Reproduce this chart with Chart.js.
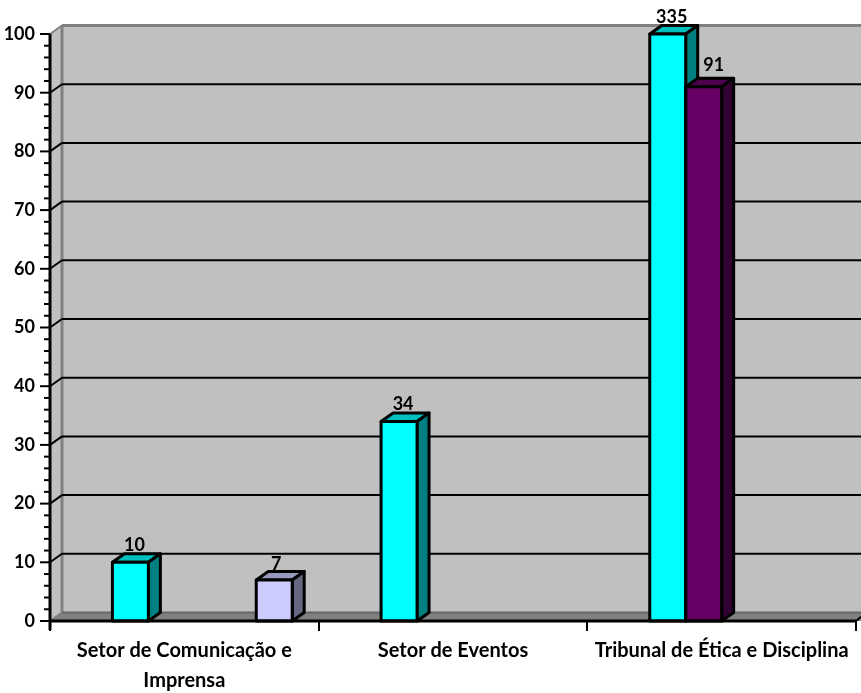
<!DOCTYPE html>
<html><head><meta charset="utf-8">
<style>html,body{margin:0;padding:0;background:#fff}canvas{display:block}</style>
<script src="https://cdn.jsdelivr.net/npm/chart.js@4"></script>
</head><body><canvas id="c" width="861" height="693"></canvas>
<script>
const categories = [["Setor de Comunicação e","Imprensa"],"Setor de Eventos","Tribunal de Ética e Disciplina"];
const cyanValues = [10,34,335];
const purpleValues = [null,null,91];
const lavenderValues = [7,null,null];
const emptyValues = [null,null,null];
const yMax = 100;

const DX = 12, DY = 8.5;
function poly(ctx, pts, fill, stroke, lw){
  ctx.beginPath(); pts.forEach((p,i)=> i?ctx.lineTo(p[0],p[1]):ctx.moveTo(p[0],p[1])); ctx.closePath();
  if(fill){ctx.fillStyle=fill;ctx.fill();}
  if(stroke){ctx.strokeStyle=stroke;ctx.lineWidth=lw;ctx.lineJoin='round';ctx.stroke();}
}
function line(ctx,x1,y1,x2,y2,c,w){ctx.beginPath();ctx.moveTo(x1,y1);ctx.lineTo(x2,y2);ctx.strokeStyle=c;ctx.lineWidth=w;ctx.stroke();}
function eachBar(chart,fn){
  chart.data.datasets.forEach((ds,di)=>{
    chart.getDatasetMeta(di).data.forEach((el,i)=>{
      if(ds.data[i]==null) return;
      const top=Math.max(el.y,chart.chartArea.top);
      fn(ds,el,top,el.x-el.width/2,el.x+el.width/2,ds.data[i],i);
    });
  });
}
const bar3d = {
  id:'bar3d',
  beforeDatasetsDraw(chart){
    const {ctx,chartArea:a,scales:{y}} = chart, W = chart.width;
    const l=a.left,t=a.top,b=a.bottom;
    ctx.save();
    poly(ctx,[[l+DX,t-DY],[W,t-DY],[W,b-DY],[l+DX,b-DY]],'#c0c0c0');
    poly(ctx,[[l,t],[l+DX,t-DY],[l+DX,b-DY],[l,b]],'#c0c0c0');
    poly(ctx,[[l,b],[l+DX,b-DY],[W,b-DY],[W,b]],'#808080');
    line(ctx,l+DX,t-DY,W,t-DY,'#808080',3);
    line(ctx,l+DX,t-DY,l+DX,b-DY,'#808080',3);
    line(ctx,l,t,l+DX,t-DY,'#808080',2);
    line(ctx,l,b,l+DX,b-DY,'#808080',2);
    line(ctx,l+DX,b-DY,W,b-DY,'#666666',2);
    line(ctx,a.right,b,W,b-DY*0.5,'#000',2);
    for(let v=10;v<yMax;v+=10){
      const p=y.getPixelForValue(v);
      line(ctx,l,p,l+DX,p-DY,'#000',2);
      line(ctx,l+DX,p-DY,W,p-DY,'#000',2);
    }
    eachBar(chart,(ds,el,top,L,R)=>{
      poly(ctx,[[L,top],[L+DX,top-DY],[R+DX,top-DY],[R,top]],ds.topColor,'#000',3);
      poly(ctx,[[R,top],[R+DX,top-DY],[R+DX,el.base-DY],[R,el.base]],ds.sideColor,'#000',3);
    });
    ctx.restore();
  },
  afterDatasetsDraw(chart){
    const {ctx,chartArea:a,scales:{y}} = chart;
    ctx.save();
    eachBar(chart,(ds,el,top,L,R)=>{
      ctx.strokeStyle='#000';ctx.lineWidth=3;ctx.lineJoin='round';
      ctx.strokeRect(L,top,R-L,el.base-top);
    });
    for(let v=0;v<=yMax;v+=2){
      const p=y.getPixelForValue(v);
      line(ctx,v%10===0?40:44,p,a.left,p,'#000',2);
    }
    line(ctx,a.left,a.top,a.left,a.bottom+9,'#000',3);
    line(ctx,a.left,a.bottom,a.right,a.bottom,'#000',3);
    ctx.font='bold 18px Lato';ctx.fillStyle='#000';ctx.textAlign='center';ctx.textBaseline='middle';
    eachBar(chart,(ds,el,top,L,R,val)=>{
      ctx.fillText(String(val),el.x+ds.labelDx,top+ds.labelDy);
    });
    ctx.restore();
  }
};
const mk=(label,data,bg,topColor,sideColor,labelDx,labelDy)=>({label,data,backgroundColor:bg,topColor,sideColor,labelDx,labelDy,borderWidth:0});
new Chart(document.getElementById('c'),{
  type:'bar',
  data:{labels:categories,datasets:[
    mk('a',emptyValues,'#000','#000','#000',0,0),
    mk('Cyan',cyanValues,'#00ffff','#00bfbf','#008080',4,-17),
    mk('Purple',purpleValues,'#660066','#4d004d','#330033',10,-22),
    mk('b',emptyValues,'#000','#000','#000',0,0),
    mk('c',emptyValues,'#000','#000','#000',0,0),
    mk('Lavender',lavenderValues,'#ccccff','#9999bf','#666680',2,-16)
  ]},
  plugins:[bar3d],
  options:{
    responsive:false,animation:false,devicePixelRatio:1,
    layout:{padding:{top:34,right:5,left:0,bottom:0}},
    categoryPercentage:0.803,barPercentage:1,
    plugins:{legend:{display:false},tooltip:{enabled:false}},
    scales:{
      x:{type:'category',
        afterFit(s){s.height=72;},
        border:{display:false},
        grid:{display:true,drawOnChartArea:false,offset:true,color:'#000',lineWidth:2,tickLength:10},
        ticks:{color:'#000',padding:5,maxRotation:0,autoSkip:false,font:{family:'Lato',weight:'bold',size:20,lineHeight:1.5}}
      },
      y:{min:0,max:yMax,
        afterFit(s){s.width=50;},
        border:{display:false},
        grid:{display:false},
        ticks:{stepSize:2,autoSkip:false,color:'#000',padding:7,font:{family:'Lato',weight:'bold',size:18},
          callback:v=>v%10===0?String(v):''}
      }
    }
  }
});
</script></body></html>
